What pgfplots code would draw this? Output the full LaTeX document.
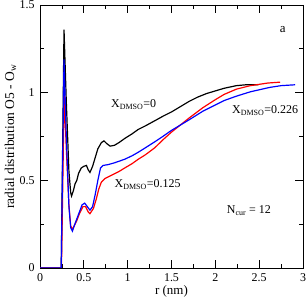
\documentclass[border=0pt]{standalone}
\usepackage{fontspec}
\setmainfont{Liberation Serif}
\usepackage{pgfplots}
\pgfplotsset{compat=1.18}
\begin{document}
\begin{tikzpicture}
\begin{axis}[
  scale only axis, width=263bp, height=263bp,
  xmin=0, xmax=3, ymin=0, ymax=1.5,
  xtick={0,0.5,1,1.5,2,2.5,3}, ytick={0,0.5,1,1.5},
  minor x tick num=1, minor y tick num=1,
  tick align=inside, major tick length=8bp, minor tick length=4bp,
  axis line style={line width=0.8pt}, tick style={line width=0.7pt, black},
  /pgf/number format/assume math mode=true,
  tick label style={font=\fontsize{12}{14}\selectfont},
  yticklabel style={xshift=-2bp},
  xticklabel style={yshift=-2bp},
  xlabel={r (nm)},
  ylabel={radial distribution O5 - O\textsubscript{w}},
  xlabel style={font=\fontsize{13}{15}\selectfont, at={(axis description cs:0.5,-0.0875)}, anchor=center},
  ylabel style={font=\fontsize{13.5}{15}\selectfont, at={(axis description cs:-0.112,0.5)}, anchor=center},
]
\coordinate (ll) at (rel axis cs:0,0);
\coordinate (ur) at (rel axis cs:1,1);
\addplot[black, line width=1.2pt] coordinates {
(0,0) (0.242,0) (0.274,1.36) (0.30,0.95) (0.33,0.55) (0.35,0.43) (0.36,0.41) (0.38,0.44) (0.40,0.48) (0.42,0.50) (0.44,0.54) (0.47,0.57) (0.50,0.58) (0.53,0.585) (0.55,0.56) (0.57,0.545) (0.60,0.58) (0.63,0.63) (0.66,0.68) (0.70,0.715) (0.73,0.725) (0.76,0.71) (0.80,0.695) (0.85,0.70) (0.90,0.715) (0.97,0.74) (1.05,0.765) (1.12,0.79) (1.2,0.81) (1.31,0.84) (1.4,0.865) (1.5,0.89) (1.6,0.92) (1.7,0.95) (1.8,0.975) (1.9,0.995) (2.0,1.01) (2.1,1.025) (2.24,1.04) (2.35,1.045) (2.49,1.045)
};
\addplot[red, line width=1.2pt] coordinates {
(0,0) (0.245,0) (0.276,1.0) (0.30,0.68) (0.33,0.36) (0.35,0.24) (0.37,0.22) (0.39,0.24) (0.42,0.27) (0.45,0.31) (0.49,0.35) (0.52,0.35) (0.55,0.32) (0.57,0.31) (0.61,0.34) (0.64,0.39) (0.67,0.45) (0.70,0.49) (0.74,0.51) (0.82,0.53) (0.90,0.55) (0.965,0.57) (1.05,0.595) (1.12,0.62) (1.2,0.645) (1.31,0.686) (1.4,0.73) (1.5,0.775) (1.6,0.815) (1.7,0.855) (1.86,0.915) (2.0,0.96) (2.1,0.99) (2.24,1.02) (2.4,1.04) (2.6,1.055) (2.74,1.06)
};
\addplot[blue, line width=1.2pt] coordinates {
(0,0) (0.242,0) (0.274,1.19) (0.30,0.75) (0.33,0.35) (0.35,0.23) (0.37,0.21) (0.39,0.24) (0.42,0.28) (0.45,0.32) (0.48,0.36) (0.51,0.37) (0.54,0.35) (0.57,0.33) (0.60,0.35) (0.63,0.42) (0.66,0.50) (0.69,0.57) (0.72,0.585) (0.78,0.59) (0.85,0.60) (0.965,0.62) (1.05,0.64) (1.12,0.66) (1.2,0.685) (1.31,0.72) (1.4,0.75) (1.5,0.785) (1.6,0.815) (1.7,0.845) (1.86,0.895) (2.0,0.93) (2.1,0.955) (2.24,0.98) (2.4,1.005) (2.62,1.03) (2.75,1.04) (2.91,1.045)
};
\node[anchor=base west, font=\fontsize{12}{14}\selectfont, inner sep=0pt] at (axis cs:0.81,0.914) {X\textsubscript{DMSO}=0};
\node[anchor=base west, font=\fontsize{12}{14}\selectfont, inner sep=0pt] at (axis cs:0.85,0.458) {X\textsubscript{DMSO}=0.125};
\node[anchor=base west, font=\fontsize{12}{14}\selectfont, inner sep=0pt] at (axis cs:2.19,0.88) {X\textsubscript{DMSO}=0.226};
\node[anchor=base west, font=\fontsize{12}{14}\selectfont, inner sep=0pt] at (axis cs:2.13,0.308) {N\textsubscript{cur} = 12};
\node[font=\fontsize{13}{15}\selectfont] at (axis cs:2.77,1.36) {a};
\end{axis}
\pgfresetboundingbox
\path ([shift={(-40bp,-32bp)}]ll) rectangle ([shift={(4bp,5bp)}]ur);
\end{tikzpicture}
\end{document}
